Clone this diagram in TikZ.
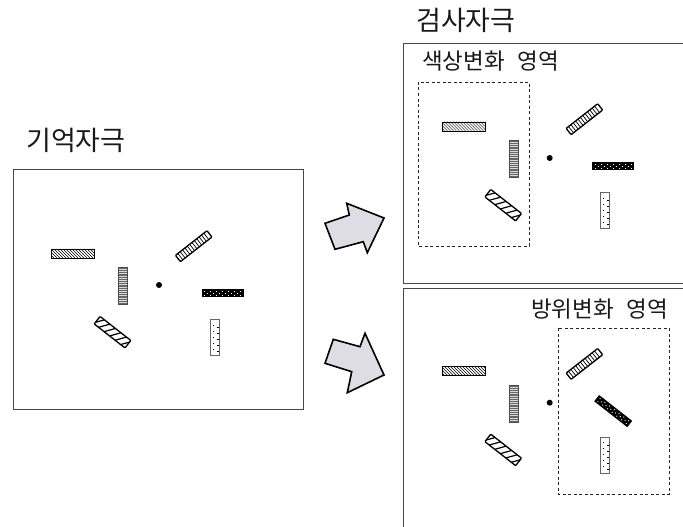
\documentclass[tikz,border=0pt]{standalone}
\usepackage{fontspec}
\newfontfamily\krfont{Noto Sans CJK KR}
\definecolor{arrowfill}{RGB}{221,221,227}
\definecolor{boxgray}{RGB}{70,70,70}
\tikzset{
  lab/.style={anchor=west,inner sep=0pt,text=black!90},
  biglab/.style={lab,font=\krfont\fontsize{27}{31}\selectfont},
  smalllab/.style={lab,font=\krfont\fontsize{22.5}{26}\selectfont},
  panelbox/.style={draw=boxgray,line width=0.9pt},
  regionbox/.style={draw=black!85,line width=0.7pt,dash pattern=on 3pt off 2.5pt},
  blockarrow/.style={fill=arrowfill,draw=black,line width=1.6pt,line join=miter},
  hatchbar/.pic={
    \begin{scope}
      \clip (-21.5,-4.5) rectangle (21.5,4.5);
      \fill[white] (-21.5,-4.5) rectangle (21.5,4.5);
      \foreach \i in {-31,-28,...,22} \draw[line width=0.5pt] (\i,-4.5) -- ++(9,9);
    \end{scope}
    \draw[line width=0.6pt] (-21.5,-4.5) rectangle (21.5,4.5);
  },
  gratebar/.pic={
    \fill[black!60] (-4.5,-18.5) rectangle (4.5,18.5);
    \foreach \j in {-16.5,-14.3,...,17} \draw[white!85!black,line width=0.6pt] (-4.5,\j) -- (4.5,\j);
    \draw[black!70,line width=0.7pt] (-4.5,-18.5) rectangle (4.5,18.5);
  },
  ladderbar/.pic={
    \fill[white] (-20,-4) rectangle (20,4);
    \foreach \i in {-17,-14,...,18} \draw[line width=0.7pt] (\i,-4) -- (\i,4);
    \draw[line width=1.3pt,rounded corners=0.8pt] (-20,-4) rectangle (20,4);
  },
  dotbar/.pic={
    \fill[black] (-21,-4) rectangle (21,4);
    \foreach \i in {-18,-12,...,18} {
      \fill[white] (\i-0.45,-2.2) rectangle ++(0.9,0.9);
      \fill[white] (\i-0.45,1.3) rectangle ++(0.9,0.9);
    }
    \foreach \i in {-15,-9,...,15} \fill[white] (\i-0.45,-0.45) rectangle ++(0.9,0.9);
  },
  whitebar/.pic={
    \fill[white] (-4.5,-18) rectangle (4.5,18);
    \foreach \j in {-13,-7,...,14} {
      \fill (-1.9,\j) rectangle ++(0.9,0.9);
      \draw[line width=0.5pt] (2.3,\j+3) -- (4.5,\j+3);
    }
    \draw[black!60,line width=0.8pt] (-4.5,-18) rectangle (4.5,18);
  },
  stripebar/.pic={
    \begin{scope}
      \clip (-19.5,-4.75) rectangle (19.5,4.75);
      \fill[white] (-19.5,-4.75) rectangle (19.5,4.75);
      \foreach \i in {-28,-21,...,20} \draw[line width=1.2pt] (\i,4.75) -- ++(7,-9.5);
    \end{scope}
    \draw[line width=1.3pt,rounded corners=0.8pt] (-19.5,-4.75) rectangle (19.5,4.75);
  },
}
\newcommand\stimpanel[1]{%
  \fill (0,0) circle (3);
  \pic at (-86.3,-31.7) {hatchbar};
  \pic at (-36.3,0.8) {gratebar};
  \pic[rotate=38] at (34.7,-38.8) {ladderbar};
  \pic[rotate=#1] at (63.5,8.4) {dotbar};
  \pic at (55.4,52.6) {whitebar};
  \pic[rotate=-38] at (-46.5,47.2) {stripebar};
}
\begin{document}
\begin{tikzpicture}[x=1pt,y=-1pt]
\useasboundingbox (0,0) rectangle (683,527);
% labels
\node[biglab] (memlabel) at (26,140) {기억자극};
\node[biglab] (testlabel) at (416,20) {검사자극};
\node[smalllab] (colorlabel) at (422,61) {색상변화\hspace{0.55em}영역};
\node[smalllab] (orilabel) at (531,309) {방위변화\hspace{0.55em}영역};
% panels
\draw[panelbox] (13,169) rectangle (303,409);
\draw[panelbox] (683,43) -- (403,43) -- (403,283) -- (683,283);
\draw[panelbox] (683,288) -- (403,288) -- (403,530);
\draw[regionbox] (418,82) rectangle (529,246);
\draw[regionbox] (558,328) rectangle (669,494);
% stimuli
\begin{scope}[shift={(159,285)}] \stimpanel{0} \end{scope}
\begin{scope}[shift={(549.7,158)}] \stimpanel{0} \end{scope}
\begin{scope}[shift={(549.7,402.7)}] \stimpanel{-38} \end{scope}
% arrows
\draw[blockarrow] (325,223.3) -- (349.3,215) -- (346.7,203.3) -- (384,218) -- (367.3,252.7) -- (363.3,241.7) -- (335,249.3) -- cycle;
\draw[blockarrow] (333.3,339.3) -- (360,346.7) -- (365,333.3) -- (384,375) -- (347.3,392.7) -- (351.7,371.7) -- (325,363.3) -- cycle;
\end{tikzpicture}
\end{document}
